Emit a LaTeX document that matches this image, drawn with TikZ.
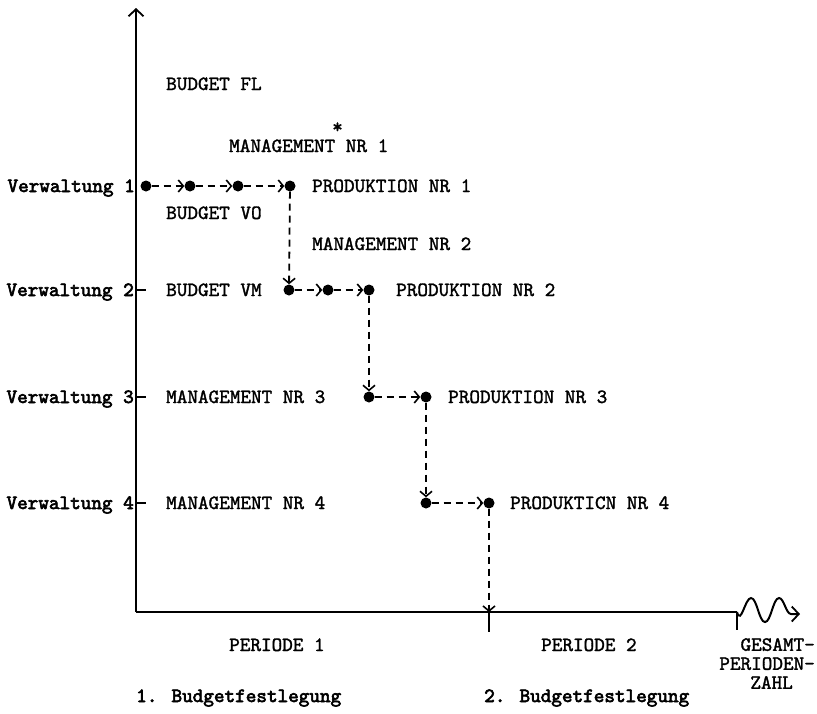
\documentclass[tikz,border=0pt]{standalone}
\usepackage{fontspec}
\newfontfamily\cour{lmmono10-regular}[Extension=.otf,FakeBold=1.6]
\newfontfamily\courb{lmmono10-regular}[Extension=.otf,FakeBold=3]
\usetikzlibrary{arrows.meta}
\begin{document}
\begin{tikzpicture}[x=1pt,y=-1pt,
  txt/.style={anchor=base west,inner sep=0pt,font=\cour\fontsize{20.2}{19}\selectfont},
  btxt/.style={txt,font=\courb\fontsize{20.2}{22}\selectfont},
  dot/.style={circle,fill=black,inner sep=0pt,minimum size=11pt},
  axis/.style={line width=2pt},
  flow/.style={line width=1.8pt,dash pattern=on 7pt off 5pt,-{Straight Barb[length=5pt,width=12pt,line width=1.6pt]}},
  tip/.style={-{Straight Barb[length=7pt,width=15pt,line width=1.8pt]}}
]
\useasboundingbox (0,0) rectangle (817,713);
% axes
\coordinate (o) at (136,612);
\coordinate (top) at (136,8);
\coordinate (xe) at (737,612);
\coordinate (e) at (489,612);
\draw[axis,tip] (o) -- (top);
\draw[axis] (o) -- (xe);
\draw[axis] (xe) -- (737,630);
\draw[axis] (e) -- (489,632);
\draw[axis,tip] (xe) .. controls (741,626) and (745,598) .. (751,598)
  .. controls (757,598) and (759,622) .. (765,622)
  .. controls (771,622) and (773,598) .. (779,598)
  .. controls (784,598) and (786,614) .. (791,614) -- (800,614);
% ticks
\foreach \yy in {290,397,503} \draw[axis] (136,\yy) -- (146,\yy);
% dots
\node[dot] (a1) at (146,186) {};
\node[dot] (a2) at (190,186) {};
\node[dot] (a3) at (238,186) {};
\node[dot] (a4) at (290,186) {};
\node[dot] (b1) at (289,290) {};
\node[dot] (b2) at (328,290) {};
\node[dot] (b3) at (369,290) {};
\node[dot] (c1) at (369,397) {};
\node[dot] (c2) at (426,397) {};
\node[dot] (d1) at (426,503) {};
\node[dot] (d2) at (489,503) {};
% flows
\draw[flow] (a1) -- (a2);
\draw[flow] (a2) -- (a3);
\draw[flow] (a3) -- (a4);
\draw[flow] (a4) -- (b1);
\draw[flow] (b1) -- (b2);
\draw[flow] (b2) -- (b3);
\draw[flow] (b3) -- (c1);
\draw[flow] (c1) -- (c2);
\draw[flow] (c2) -- (d1);
\draw[flow] (d1) -- (d2);
\draw[flow] (d2) -- (e);
% labels
\node[btxt,anchor=base east] (v1) at (135,192) {Verwaltung 1};
\node[btxt,anchor=base east] (v2) at (134,296) {Verwaltung 2};
\node[btxt,anchor=base east] (v3) at (134,403) {Verwaltung 3};
\node[btxt,anchor=base east] (v4) at (134,509) {Verwaltung 4};
\node[txt] (bfl) at (166,90) {BUDGET FL};
\node[txt] (m1) at (229,152) {MANAGEMENT NR 1};
\node[txt] (star) at (332,133) {*};
\node[txt] (p1) at (312,192) {PRODUKTION NR 1};
\node[txt] (bvo) at (166,219) {BUDGET VO};
\node[txt] (m2) at (312,250) {MANAGEMENT NR 2};
\node[txt] (bvm) at (166,296) {BUDGET VM};
\node[txt] (p2) at (396,296) {PRODUKTION NR 2};
\node[txt] (m3) at (166,403) {MANAGEMENT NR 3};
\node[txt] (p3) at (448,403) {PRODUKTION NR 3};
\node[txt] (m4) at (166,509) {MANAGEMENT NR 4};
\node[txt] (p4) at (510,509) {PRODUKTICN NR 4};
\node[txt] (per1) at (229,651) {PERIODE 1};
\node[txt] (per2) at (541,651) {PERIODE 2};
\node[txt,anchor=north east,align=right] (g) at (815,638) {GESAMT-\\PERIODEN-\\ZAHL\hspace*{22pt}};
\node[btxt] (bf1) at (136,702) {1. Budgetfestlegung};
\node[btxt] (bf2) at (484,702) {2. Budgetfestlegung};
\end{tikzpicture}
\end{document}
